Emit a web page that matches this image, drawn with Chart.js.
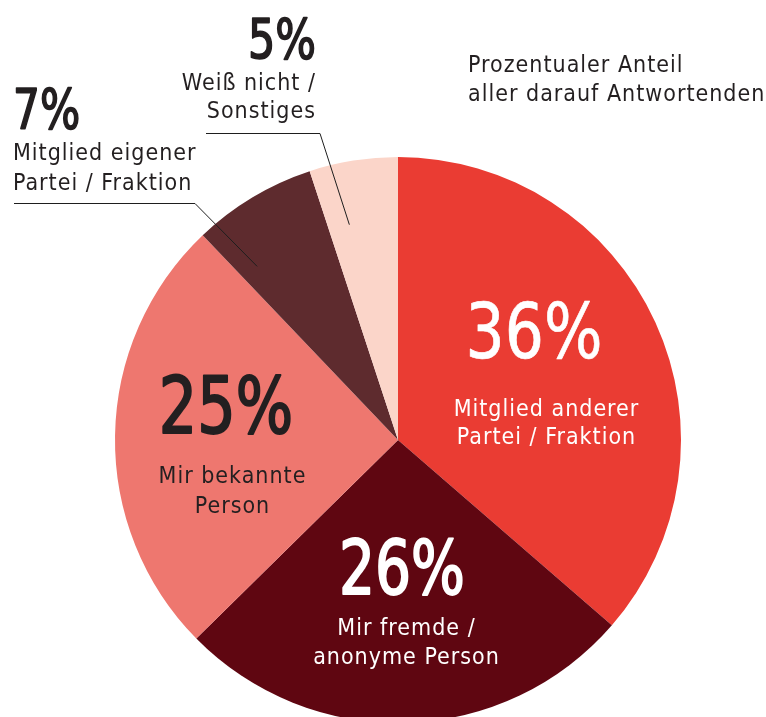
<!DOCTYPE html>
<html>
<head>
<meta charset="utf-8">
<script src="https://cdn.jsdelivr.net/npm/chart.js@4"></script>
<style>
  html, body { margin: 0; padding: 0; background: #fff; overflow: hidden; }
  #wrap { position: absolute; left: 0; top: 0; width: 766px; height: 723px; }
</style>
</head>
<body>
<div id="wrap"><canvas id="c" width="766" height="723"></canvas></div>
<script>
// Anteile je Antwort, im Uhrzeigersinn ab 12 Uhr
const categories = ['Mitglied anderer Partei / Fraktion', 'Mir fremde / anonyme Person', 'Mir bekannte Person', 'Mitglied eigener Partei / Fraktion', 'Weiß nicht / Sonstiges'];
const shares = [36, 26, 25, 7, 5];
const labelLines = [
  ['Mitglied anderer', 'Partei / Fraktion'],
  ['Mir fremde /', 'anonyme Person'],
  ['Mir bekannte', 'Person'],
  ['Mitglied eigener', 'Partei / Fraktion'],
  ['Weiß nicht /', 'Sonstiges']
];
const titleLines = ['Prozentualer Anteil', 'aller darauf Antwortenden'];

const colors = ['#EA3C33', '#5F0611', '#EE776F', '#5E2B2E', '#FBD5C9'];
const INK = '#231F20';
const FONT = '"DejaVu Sans Condensed", "DejaVu Sans", sans-serif';
const SUB_SIZE = 23;

// Lage der Beschriftungen relativ zum Kreismittelpunkt (bzw. absolut bei externen Labels)
// sx = horizontale Stauchung der großen Prozentzahlen, bold = Konturstärke (DIN-ähnlich)
const labelStyle = [
  { dx: 136, dy: -82, align: 'center', pct: 76, bold: 0.6, sx: 0.9, color: '#fff', subDx: 12, subDy: [-24, 4] },
  { dx: 4, dy: 154, align: 'center', pct: 75, bold: 1.6, sx: 0.84, color: '#fff', subDx: 4, subDy: [195, 224] },
  { dx: -172, dy: -7, align: 'center', pct: 79, bold: 1.7, sx: 0.85, color: INK, subDx: 6, subDy: [43, 73] },
  { x: 13, y: 128, align: 'left', pct: 56, bold: 1.4, sx: 0.84, color: INK, subY: [160, 190],
    leader: { y: 203, x0: 14, x1: 195, frac: 0.18, r: 0.79 } },
  { x: 316, y: 58, align: 'right', pct: 56, bold: 1.4, sx: 0.85, color: INK, subY: [90, 118],
    leader: { y: 133, x0: 206, x1: 320, frac: 0.3, r: 0.78 } }
];

const pieLabels = {
  id: 'pieLabels',
  afterDraw(chart) {
    const ctx = chart.ctx;
    const arcs = chart.getDatasetMeta(0).data;
    ctx.save();
    ctx.textBaseline = 'alphabetic';

    arcs.forEach((arc, i) => {
      const st = labelStyle[i];
      const cx = arc.x, cy = arc.y;
      const px = st.x != null ? st.x : cx + st.dx;
      const py = st.y != null ? st.y : cy + st.dy;

      // Führungslinie für kleine Segmente
      if (st.leader) {
        const L = st.leader;
        const a = arc.startAngle + (arc.endAngle - arc.startAngle) * L.frac;
        const ex = cx + Math.cos(a) * arc.outerRadius * L.r;
        const ey = cy + Math.sin(a) * arc.outerRadius * L.r;
        ctx.strokeStyle = '#1e1e1e';
        ctx.lineWidth = 1;
        ctx.beginPath();
        ctx.moveTo(L.x0, L.y + 0.5);
        ctx.lineTo(L.x1, L.y + 0.5);
        ctx.lineTo(ex, ey);
        ctx.stroke();
      }

      // große Prozentzahl
      ctx.fillStyle = st.color;
      ctx.strokeStyle = st.color;
      ctx.lineJoin = 'round';
      ctx.textAlign = st.align;
      ctx.letterSpacing = '0px';
      ctx.font = `${st.pct}px ${FONT}`;
      ctx.save();
      ctx.translate(px, py);
      ctx.scale(st.sx, 1);
      ctx.lineWidth = st.bold / st.sx;
      ctx.fillText(shares[i] + '%', 0, 0);
      ctx.strokeText(shares[i] + '%', 0, 0);
      ctx.restore();

      ctx.font = `${SUB_SIZE}px ${FONT}`;
      ctx.letterSpacing = '1px';
      labelLines[i].forEach((line, k) => {
        let lx = st.subDx != null ? px + st.subDx : px;
        if (st.align === 'center') lx += 0.5; // Ausgleich des Zeichenabstands
        const ly = st.subY ? st.subY[k] : cy + st.subDy[k];
        ctx.fillText(line, lx, ly);
      });
    });

    // Hinweis oben rechts
    ctx.fillStyle = INK;
    ctx.textAlign = 'left';
    ctx.letterSpacing = '1px';
    ctx.font = `${SUB_SIZE}px ${FONT}`;
    ctx.fillText(titleLines[0], 468, 72);
    ctx.fillText(titleLines[1], 468, 101);
    ctx.restore();
  }
};

new Chart(document.getElementById('c'), {
  type: 'pie',
  data: {
    labels: categories,
    datasets: [{ data: shares, backgroundColor: colors, borderWidth: 0 }]
  },
  options: {
    responsive: false,
    animation: false,
    layout: { padding: { left: 115, right: 85, top: 157, bottom: 0 } },
    plugins: { legend: { display: false }, tooltip: { enabled: false } }
  },
  plugins: [pieLabels]
});
</script>
</body>
</html>
